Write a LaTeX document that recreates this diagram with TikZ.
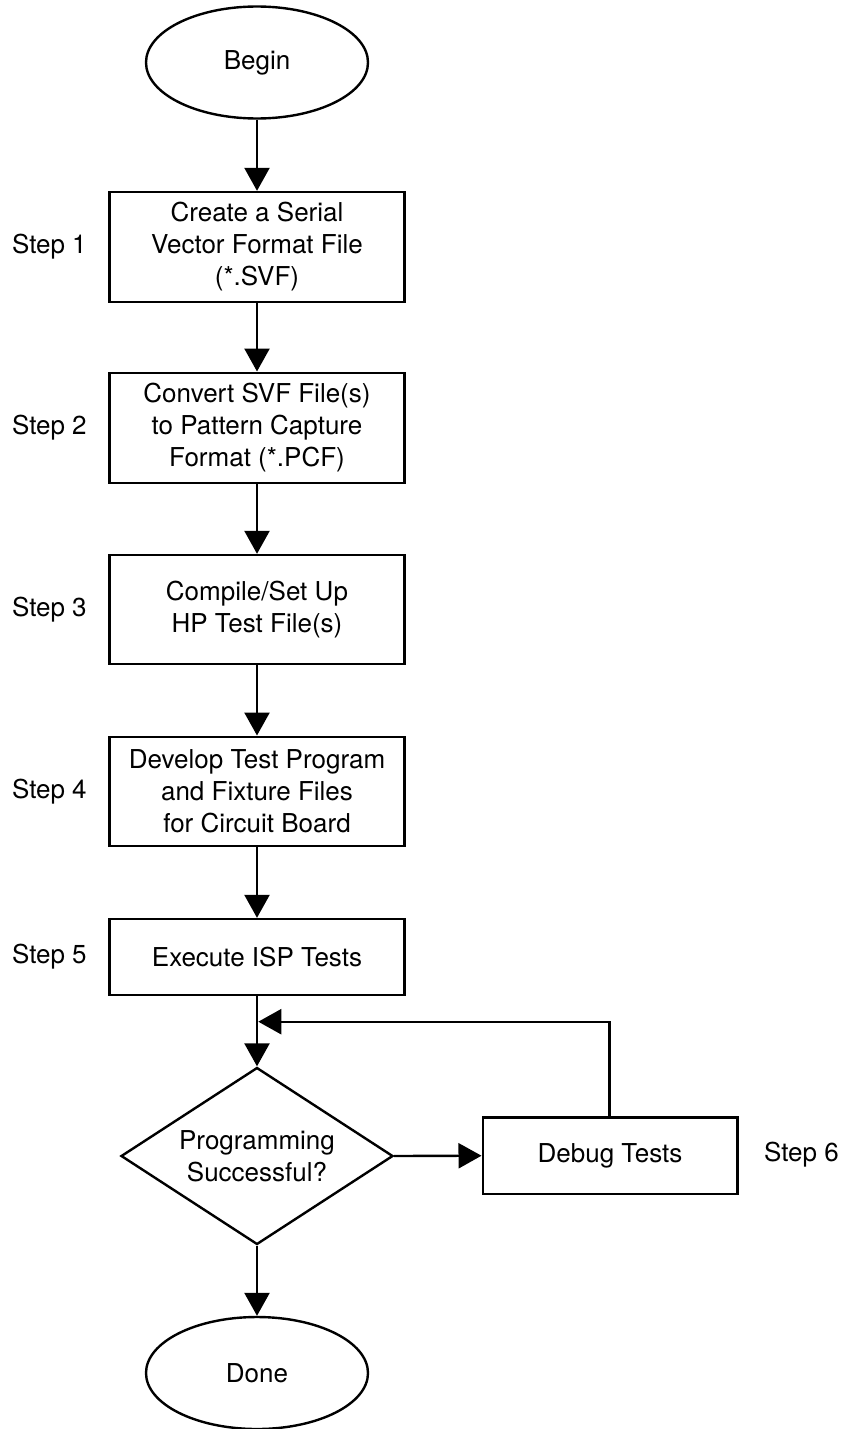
\documentclass[tikz,border=0pt]{standalone}
\usepackage{fontspec}
\setmainfont{TeX Gyre Heros}
\usetikzlibrary{shapes.geometric,arrows.meta}
\begin{document}
\begin{tikzpicture}[x=1pt,y=-1pt,
  line width=2.4pt,
  font=\fontsize{26}{32}\selectfont,
  box/.style={draw, rectangle, minimum width=295pt, minimum height=110pt, align=center, inner sep=0pt},
  term/.style={draw, ellipse, minimum width=222pt, minimum height=112pt, inner sep=0pt},
  dec/.style={draw, diamond, shape aspect=1.54, minimum width=272pt, minimum height=177pt, inner sep=0pt, align=center},
  lab/.style={inner sep=0pt, align=center},
  arr/.style={-{Triangle[length=23pt,width=25pt]}}]
\useasboundingbox (0,0) rectangle (844,1429);

\node[term] (begin) at (257,62.5) {Begin};
\node[box] (s1) at (257,247) {Create a Serial\\Vector Format File\\(*.SVF)};
\node[box] (s2) at (257,427.7) {Convert SVF File(s)\\to Pattern Capture\\Format (*.PCF)};
\node[box, minimum height=109pt] (s3) at (257,609.5) {Compile/Set Up\\HP Test File(s)};
\node[box, minimum height=109pt] (s4) at (257,791.2) {Develop Test Program\\and Fixture Files\\for Circuit Board};
\node[box, minimum height=76pt] (s5) at (257,957) {Execute ISP Tests};
\node[dec] (dec) at (257,1156) {Programming\\Successful?};
\node[box, minimum width=254.6pt, minimum height=76.7pt] (dbg) at (610,1155.7) {Debug Tests};
\node[term] (done) at (257,1373) {Done};

\node[lab] (l1) at (49.4,247) {Step 1};
\node[lab] (l2) at (49.4,427.7) {Step 2};
\node[lab] (l3) at (49.4,609.5) {Step 3};
\node[lab] (l4) at (49.4,791.2) {Step 4};
\node[lab] (l5) at (49.4,957) {Step 5};
\node[lab] (l6) at (801.5,1155) {Step 6};

\coordinate (m) at (258.3,1021.7);

\draw[arr] (begin) -- (s1);
\draw[arr] (s1) -- (s2);
\draw[arr] (s2) -- (s3);
\draw[arr] (s3) -- (s4);
\draw[arr] (s4) -- (s5);
\draw[arr] (s5) -- (dec);
\draw[arr] (dec.east) -- (dbg.west);
\draw[arr] ([xshift=-0.7pt]dbg.north) |- (m);
\draw[arr] (dec.south) -- (done);
\end{tikzpicture}
\end{document}
